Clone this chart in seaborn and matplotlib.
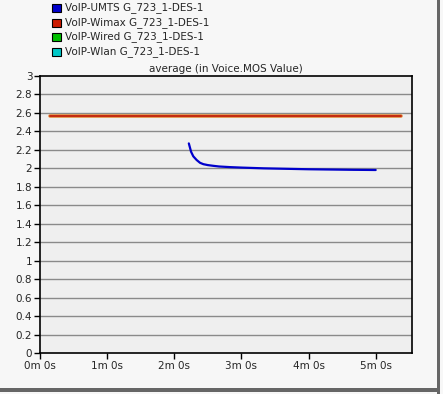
import numpy as np
import pandas as pd
import matplotlib
matplotlib.use("Agg")
import matplotlib.pyplot as plt
import seaborn as sns
from matplotlib.patches import Rectangle
from matplotlib.ticker import FuncFormatter

sns.set_style("white")
plt.rcParams['font.family'] = ['DejaVu Sans']

series_names = ["VoIP-UMTS G_723_1-DES-1", "VoIP-Wimax G_723_1-DES-1",
                "VoIP-Wired G_723_1-DES-1", "VoIP-Wlan G_723_1-DES-1"]
series_colors = ["#0000cc", "#cc1a00", "#00c000", "#00c8c8"]

# simulation time in seconds
umts_time = [133, 135, 137, 140, 143, 146, 150, 155, 160, 170, 180, 200, 220, 240, 260, 280, 300]
umts_mos = [2.27, 2.18, 2.13, 2.09, 2.06, 2.045, 2.035, 2.027, 2.02, 2.013, 2.008, 2.0, 1.995, 1.99, 1.987, 1.984, 1.982]
wimax_time = [9, 60, 120, 180, 240, 300, 323]
wimax_mos = [2.57, 2.57, 2.57, 2.57, 2.57, 2.57, 2.57]

y_ticks = np.arange(0, 3.01, 0.2)
x_ticks = [0, 60, 120, 180, 240, 300]
x_labels = ["0m 0s", "1m 0s", "2m 0s", "3m 0s", "4m 0s", "5m 0s"]

umts = pd.DataFrame({"t": umts_time, "mos": umts_mos})
wimax = pd.DataFrame({"t": wimax_time, "mos": wimax_mos})

fig = plt.figure(figsize=(4.43, 3.94), dpi=100)
fig.patch.set_facecolor("#f7f7f7")
ax = fig.add_axes([40 / 443, 1 - 353 / 394, 371.5 / 443, 277 / 394])
ax.set_facecolor("#efefef")

for y in y_ticks[1:-1]:
    ax.axhline(y, color="#8a8a8a", linewidth=1.0, zorder=1)

sns.lineplot(data=wimax, x="t", y="mos", ax=ax, color="#e08a3a", linewidth=2.6, zorder=3)
sns.lineplot(data=wimax, x="t", y="mos", ax=ax, color="#c42a10", linewidth=1.4, zorder=4)
sns.lineplot(data=umts, x="t", y="mos", ax=ax, color=series_colors[0], linewidth=1.6, zorder=5)

ax.set_xlim(0, 332)
ax.set_ylim(0, 3)
ax.set_yticks(y_ticks)
ax.yaxis.set_major_formatter(FuncFormatter(lambda v, p: f"{v:.1f}".rstrip("0").rstrip(".")))
ax.set_xticks(x_ticks)
ax.set_xticklabels(x_labels)
ax.tick_params(axis="both", direction="out", length=4, width=1, color="black",
               labelsize=7.5, pad=1.5, bottom=True, left=True)
ax.set_xlabel("")
ax.set_ylabel("")
for spine in ax.spines.values():
    spine.set_edgecolor("black")
    spine.set_linewidth(1.2)

ax.set_title("average (in Voice.MOS Value)", fontsize=7.5, pad=3)

# legend above the axes
for i, (name, col) in enumerate(zip(series_names, series_colors)):
    yy = 1 - (8 + i * 14.5) / 394
    fig.patches.append(Rectangle((52 / 443, yy - 4 / 394), 9 / 443, 8 / 394,
                                 transform=fig.transFigure, facecolor=col,
                                 edgecolor="black", linewidth=0.8))
    fig.text(65 / 443, yy, name, fontsize=7.5, va="center", ha="left")

# outer frame shadow (right and bottom)
fig.patches.append(Rectangle((437 / 443, 0), 3 / 443, 1, transform=fig.transFigure,
                             facecolor="#666666", edgecolor="none"))
fig.patches.append(Rectangle((0, 2 / 394), 440 / 443, 4 / 394, transform=fig.transFigure,
                             facecolor="#666666", edgecolor="none"))

fig.savefig("out.png", dpi=100)
